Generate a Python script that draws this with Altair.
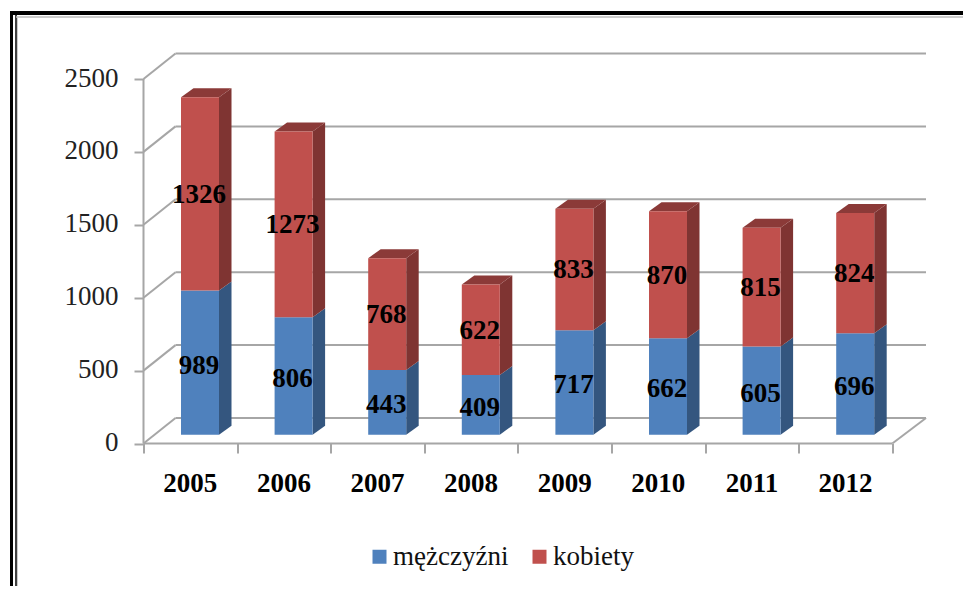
import altair as alt
import pandas as pd

years = [2005, 2006, 2007, 2008, 2009, 2010, 2011, 2012]
men = [989, 806, 443, 409, 717, 662, 605, 696]
women = [1326, 1273, 768, 622, 833, 870, 815, 824]
series_names = ["mężczyźni", "kobiety"]
y_ticks = [0, 500, 1000, 1500, 2000, 2500]

FONT = "Liberation Serif"
FS = 27
PX_X = 93.6       # pixels per category
PX_Y = 0.1458     # pixels per value unit
PLOT_W, PLOT_H = 782.5, 390.5
X_MAX, Y_MAX = PLOT_W / PX_X, PLOT_H / PX_Y
WALL_X, WALL_Y = 32 / PX_X, 25.5 / PX_Y      # depth of the chart box
BAR_W = 38 / PX_X
SIDE_X, SIDE_Y = 12.5 / PX_X, 9 / PX_Y       # depth of a bar
BASE_X, BASE_Y = 0.5 + 9.7 / PX_X - BAR_W / 2, 8.8 / PX_Y  # bar start inside a category

GRID = "#A6A6A6"
front = {"mężczyźni": "#4F81BD", "kobiety": "#C0504D"}
side = {"mężczyźni": "#34567F", "kobiety": "#7F3432"}
TOP = "#8B3A38"
label_shift = {"mężczyźni": 3.0, "kobiety": 1.0}  # pixels down

rects, sides, tops, labels = [], [], [], []
for i, year in enumerate(years):
    base = BASE_Y
    for name, val in zip(series_names, (men[i], women[i])):
        x0, x1 = i + BASE_X, i + BASE_X + BAR_W
        y0, y1 = base, base + val
        rects.append(dict(series=name, x=x0, x2=x1, y=y0, y2=y1))
        sides.append(dict(series=name, id=f"{year}", x=x1, y=y0, y2=y1))
        sides.append(dict(series=name, id=f"{year}", x=x1 + SIDE_X, y=y0 + SIDE_Y, y2=y1 + SIDE_Y))
        labels.append(dict(x=(x0 + x1) / 2 - 1 / PX_X, y=(y0 + y1) / 2 - label_shift[name] / PX_Y, text=str(val)))
        if name == "kobiety":
            tops.append(dict(id=f"{year}", y=y1, x=x0, x2=x1))
            tops.append(dict(id=f"{year}", y=y1 + SIDE_Y, x=x0 + SIDE_X, x2=x1 + SIDE_X))
        base = y1

rects = pd.DataFrame(rects)
sides = pd.DataFrame(sides)
tops = pd.DataFrame(tops)
labels = pd.DataFrame(labels)

xs = alt.Scale(domain=[0, X_MAX], nice=False, zero=False)
ys = alt.Scale(domain=[0, Y_MAX], nice=False, zero=False)

year_expr = "[" + ",".join(f"'{y}'" for y in years) + ",''][datum.value]"
x_axis = alt.Axis(
    values=list(range(len(years) + 1)), labelExpr=year_expr, grid=False, domain=False,
    tickColor=GRID, tickWidth=2, tickSize=9.5, labelOffset=PX_X / 2 - 0.5, labelPadding=17,
    labelFont=FONT, labelFontSize=FS, labelFontWeight="bold", labelColor="black",
    labelOverlap=False, labelFlush=False, labelAlign="center", title=None)
y_axis = alt.Axis(
    values=y_ticks, format="d", grid=False, domain=False, tickColor=GRID, tickWidth=2, tickSize=9.5,
    labelPadding=16, labelOffset=-1, labelFont=FONT, labelFontSize=FS, labelColor="#222222",
    labelOverlap=False, labelFlush=False, title=None)

X = lambda f="x": alt.X(f"{f}:Q", scale=xs, axis=x_axis, title=None)
Y = lambda f="y": alt.Y(f"{f}:Q", scale=ys, axis=y_axis, title=None)

line = dict(color=GRID, strokeWidth=2)
back = pd.DataFrame({"x": WALL_X, "x2": X_MAX, "v": y_ticks})
back["y"] = back["v"] + WALL_Y
left = pd.DataFrame({"x": 0.0, "x2": WALL_X, "y": y_ticks})
left["y2"] = left["y"] + WALL_Y
floor_right = pd.DataFrame({"x": [float(len(years))], "x2": [X_MAX], "y": [0.0], "y2": [WALL_Y]})

back_l = alt.Chart(back).mark_rule(**line).encode(x=X(), x2="x2:Q", y=Y())
diag = alt.Chart(pd.concat([left, floor_right])).mark_rule(**line).encode(x=X(), x2="x2:Q", y=Y(), y2="y2:Q")
y_axis_l = alt.Chart(pd.DataFrame({"x": [0.0], "y": [0.0], "y2": [float(y_ticks[-1])]})).mark_rule(**line).encode(
    x=X(), y=Y(), y2="y2:Q")
x_axis_l = alt.Chart(pd.DataFrame({"x": [0.0], "x2": [float(len(years))], "y": [0.0]})).mark_rule(**line).encode(
    x=X(), x2="x2:Q", y=Y())

side_layers = [
    alt.Chart(sides[sides.series == n]).mark_area(color=side[n], opacity=1).encode(
        x=X(), y=Y(), y2="y2:Q", detail="id:N")
    for n in series_names
]
top_l = alt.Chart(tops).mark_area(color=TOP, orient="horizontal").encode(
    y=Y(), x=X(), x2="x2:Q", detail="id:N")

fronts = alt.Chart(rects).mark_rect().encode(
    x=X(), x2="x2:Q", y=Y(), y2="y2:Q",
    color=alt.Color("series:N", scale=alt.Scale(domain=series_names, range=[front[n] for n in series_names]),
                    legend=alt.Legend(orient="none", legendX=222.5, legendY=490, direction="horizontal",
                                      title=None, symbolType="square", symbolSize=196, symbolStrokeWidth=0,
                                      labelFont=FONT, labelFontSize=FS, labelColor="#111111",
                                      labelOffset=0, columnPadding=17, symbolOpacity=1)),
)

texts = alt.Chart(labels).mark_text(font=FONT, fontSize=FS, fontWeight="bold", color="black",
                                    baseline="middle", align="center").encode(x=X(), y=Y(), text="text:N")

# picture frame, in pixels relative to the plot area
OX, OY = 135.5, 45
W, H = 955, 578
def hline(y, x0, x1, color, w):
    return alt.Chart(pd.DataFrame({"a": [0]})).mark_rule(color=color, strokeWidth=w).encode(
        x=alt.value(x0 - OX), x2=alt.value(x1 - OX), y=alt.value(y - OY))
def vline(x, y0, y1, color, w):
    return alt.Chart(pd.DataFrame({"a": [0]})).mark_rule(color=color, strokeWidth=w).encode(
        x=alt.value(x - OX), y=alt.value(y0 - OY), y2=alt.value(y1 - OY))

frame = [
    hline(5.0, 2, W, "black", 4),
    vline(3.5, 3, H, "black", 3),
    vline(8.0, 7, H, "black", 1.5),
    hline(9.0, 8, W, "#BBBBBB", 1.5),
    vline(9.5, 9, H, "#CCCCCC", 1),
]

chart = alt.layer(
    *frame, back_l, diag, y_axis_l, x_axis_l, *side_layers, top_l, fronts, texts
).properties(
    width=PLOT_W, height=PLOT_H,
    padding={"left": OX, "top": OY, "right": W - OX - PLOT_W, "bottom": H - OY - PLOT_H},
    autosize=alt.AutoSizeParams(type="none"),
    background="white",
).configure_view(stroke=None)

chart.save("out.html", embed_options={"renderer": "svg", "actions": False})
